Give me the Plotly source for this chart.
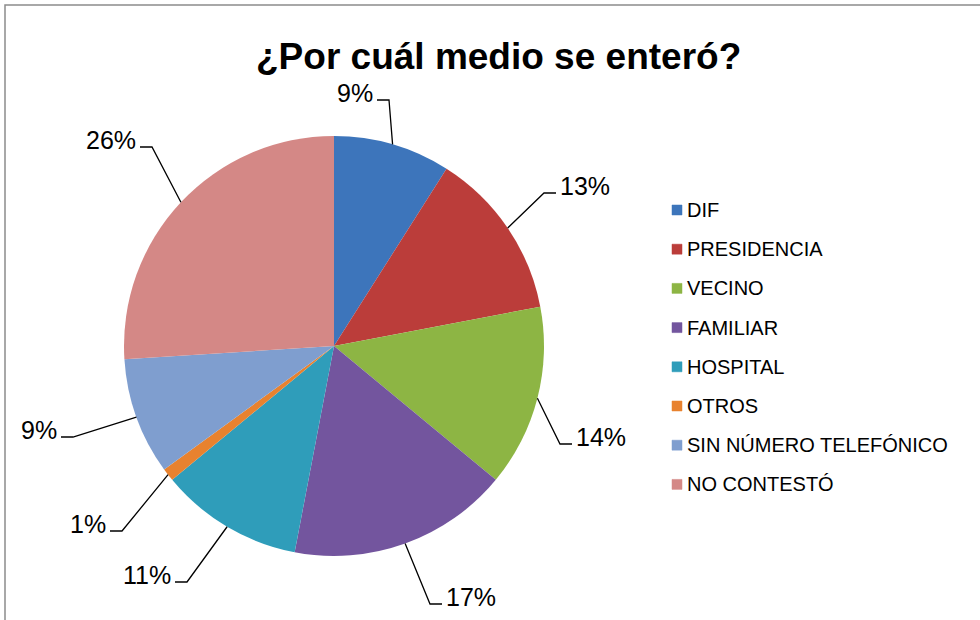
import math
import plotly.graph_objects as go

categories = ["DIF", "PRESIDENCIA", "VECINO", "FAMILIAR", "HOSPITAL", "OTROS",
              "SIN NÚMERO TELEFÓNICO", "NO CONTESTÓ"]
values = [9, 13, 14, 17, 11, 1, 9, 26]
pct_labels = ["9%", "13%", "14%", "17%", "11%", "1%", "9%", "26%"]
colors = ["#3D75BB", "#BB3D3A", "#8DB544", "#73559E", "#2F9DBA", "#E8822F",
          "#7F9ECF", "#D48886"]

W, H = 980, 620
CX, CY, R = 334, 346, 210

# layout: elbow point of each leader line (pixels) and side of the label
elbows = [(389, 100), (544, 193), (560, 444), (430, 604),
          (187, 582), (122, 531), (73, 437), (152, 147)]
sides = ["left", "right", "right", "right", "left", "left", "left", "left"]


def px(x):
    return x / W


def py(y):
    return 1 - y / H


fig = go.Figure(go.Pie(
    labels=categories, values=values, sort=False, direction="clockwise",
    rotation=0, marker=dict(colors=colors, line=dict(width=0)),
    textinfo="none", hoverinfo="label+percent", showlegend=False,
    domain=dict(x=[px(CX - R), px(CX + R)], y=[py(CY + R), py(CY - R)]),
))

shapes = []
annotations = []
total = sum(values)
cum = 0
for v, lab, (ex, ey), side in zip(values, pct_labels, elbows, sides):
    mid = (cum + v / 2) / total * 2 * math.pi
    cum += v
    sx = CX + R * math.sin(mid)
    sy = CY - R * math.cos(mid)
    hx = ex - 12 if side == "left" else ex + 12
    shapes.append(dict(
        type="path", xref="paper", yref="paper",
        path=f"M {px(sx)},{py(sy)} L {px(ex)},{py(ey)} L {px(hx)},{py(ey)}",
        line=dict(color="black", width=1.3)))
    annotations.append(dict(
        x=px(hx - 2 if side == "left" else hx + 2), y=py(ey - 7),
        xref="paper", yref="paper", text=lab, showarrow=False,
        xanchor="right" if side == "left" else "left", yanchor="middle",
        font=dict(family="Liberation Sans, Arial", size=25, color="black")))

# manual legend
for i, (cat, col) in enumerate(zip(categories, colors)):
    ly = 210 + i * 39.2
    shapes.append(dict(type="rect", xref="paper", yref="paper",
                       x0=px(672), x1=px(682), y0=py(ly + 5), y1=py(ly - 5),
                       fillcolor=col, line=dict(color=col, width=0.5)))
    annotations.append(dict(
        x=px(685), y=py(ly), xref="paper", yref="paper", text=cat,
        showarrow=False, xanchor="left", yanchor="middle",
        font=dict(family="Liberation Sans, Arial", size=20, color="black")))

# outer border of chart area
shapes.append(dict(type="rect", xref="paper", yref="paper",
                   x0=px(5), x1=px(990), y0=py(640), y1=py(5),
                   line=dict(color="#8C8C8C", width=1.5), fillcolor="rgba(0,0,0,0)"))

annotations.append(dict(
    x=px(498), y=py(56), xref="paper", yref="paper",
    text="<b>¿Por cuál medio se enteró?</b>", showarrow=False,
    xanchor="center", yanchor="middle",
    font=dict(family="Liberation Sans, Arial", size=37, color="black")))

fig.update_layout(
    width=W, height=H, margin=dict(l=0, r=0, t=0, b=0),
    paper_bgcolor="white", plot_bgcolor="white",
    shapes=shapes, annotations=annotations,
)

fig.write_html("out.html", config={"displayModeBar": False},
               post_script="document.body.style.margin='0';")
